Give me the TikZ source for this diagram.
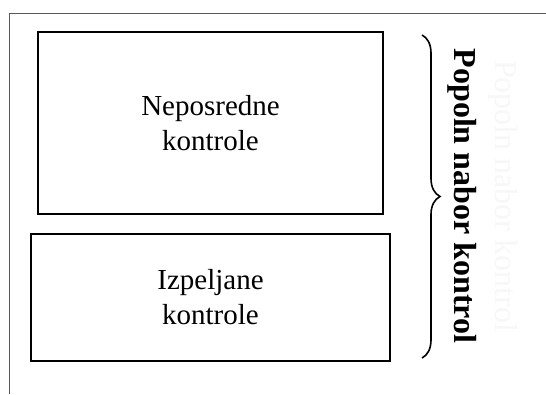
\documentclass[tikz,border=0pt]{standalone}
\usepackage{fontspec}
\setmainfont{Liberation Serif}
\usetikzlibrary{decorations.pathreplacing}
\begin{document}
\begin{tikzpicture}[x=1pt,y=-1pt,
  boxnode/.style={draw=black,line width=2pt,inner sep=0pt,align=center,
    font=\fontsize{29}{35}\selectfont},
  framestyle/.style={draw=black!65,line width=1pt},
  bracestyle/.style={draw=black,line width=1.6pt,decorate,
    decoration={brace,amplitude=18pt}},
  sidelabel/.style={rotate=-90,font=\bfseries\fontsize{32}{36}\selectfont},
  ghostlabel/.style={rotate=-90,text=black!3,font=\fontsize{32}{36}\selectfont}]
\useasboundingbox (0,0) rectangle (546,394);
\fill[white] (0,0) rectangle (546,394);
\coordinate (fb) at (9,394);
\coordinate (fc) at (9,13);
\coordinate (fr) at (546,13);
\draw[framestyle] (fb) -- (fc) -- (fr);
\node[boxnode,minimum width=345pt,minimum height=182pt] (direct) at (210.5,123) {Neposredne\\kontrole};
\node[boxnode,minimum width=359pt,minimum height=127pt] (derived) at (210.5,297.5) {Izpeljane\\kontrole};
\coordinate (bt) at (422,35);
\coordinate (bb) at (422,358);
\draw[bracestyle] (bt) -- (bb);
\node[ghostlabel] (ghost) at (503,196) {Popoln nabor kontrol};
\node[sidelabel] (label) at (462,196) {Popoln nabor kontrol};
\end{tikzpicture}
\end{document}
